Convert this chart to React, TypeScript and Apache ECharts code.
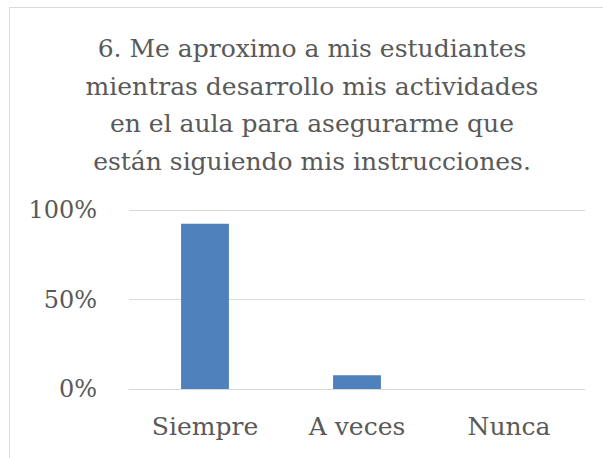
import React, { useEffect, useRef } from "react";
import * as echarts from "echarts";

const titleLines = [
  "6. Me aproximo a mis estudiantes",
  "mientras desarrollo mis actividades",
  "en el aula para asegurarme que",
  "están siguiendo mis instrucciones.",
];
const categories = ["Siempre", "A veces", "Nunca"];
const values = [92.3, 7.7, 0];
const yTicks = [0, 50, 100];

export default function App() {
  const ref = useRef<HTMLDivElement>(null);
  useEffect(() => {
    if (!ref.current) return;
    const chart = echarts.init(ref.current, undefined, { renderer: "svg" });
    const font = "DejaVu Serif";
    chart.setOption({
      animation: false,
      backgroundColor: "#ffffff",
      title: {
        text: titleLines.join("\n"),
        left: 312,
        top: 30,
        textAlign: "center",
        padding: 0,
        textStyle: {
          fontFamily: font,
          fontSize: 25,
          fontWeight: "normal",
          color: "#595959",
          lineHeight: 37.5,
        },
      },
      graphic: [
        {
          type: "rect",
          shape: { x: 9.5, y: 7.5, width: 700, height: 600 },
          style: { fill: "none", stroke: "#d9d9d9", lineWidth: 1 },
          silent: true,
        },
      ],
      grid: { left: 129, right: 18, top: 210, bottom: 69 },
      xAxis: {
        type: "category",
        data: categories,
        axisLine: { show: true, lineStyle: { color: "#d9d9d9", width: 1 } },
        axisTick: { show: false },
        axisLabel: {
          fontFamily: font,
          fontSize: 25,
          color: "#595959",
          margin: 25,
          verticalAlign: "top",
        },
      },
      yAxis: {
        type: "value",
        min: yTicks[0],
        max: yTicks[yTicks.length - 1],
        interval: yTicks[1] - yTicks[0],
        axisLine: { show: false },
        axisTick: { show: false },
        splitLine: { lineStyle: { color: "#d9d9d9", width: 1 } },
        axisLabel: {
          fontFamily: font,
          fontSize: 24,
          color: "#595959",
          margin: 32,
          formatter: (v: number) => v + "%",
        },
      },
      series: [
        {
          type: "bar",
          data: values,
          barWidth: "31.5%",
          itemStyle: { color: "#4f81bd" },
        },
      ],
    });
    return () => chart.dispose();
  }, []);
  return (
    <div
      ref={ref}
      style={{ position: "fixed", left: 0, top: 0, width: 603, height: 458 }}
    />
  );
}
